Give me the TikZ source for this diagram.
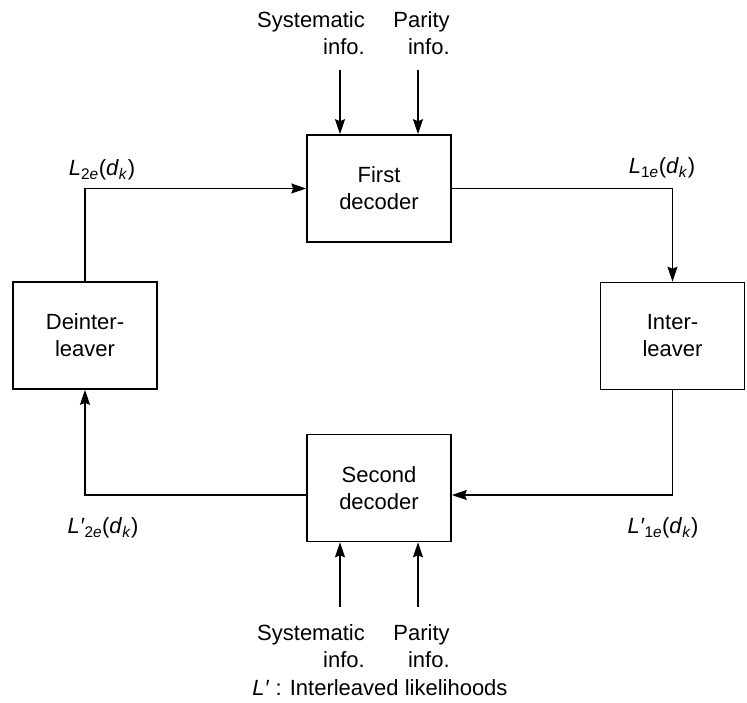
\documentclass[tikz,border=0pt]{standalone}
\usepackage{fontspec}
\setmainfont{Liberation Sans}
\usetikzlibrary{arrows.meta}
\newcommand{\ital}[1]{\textit{#1}}
\newcommand{\pr}{\ital{\char"2032}}
\begin{document}
\begin{tikzpicture}[x=1pt,y=-1pt,
  font=\fontsize{22}{27}\selectfont,
  line width=1.6pt,
  arr/.style={-{Stealth[length=15pt,width=10pt,inset=2pt]}},
  blockbox/.style={draw,rectangle,minimum width=144pt,minimum height=107pt,
    align=center,inner sep=0pt},
  lbl/.style={inner sep=0pt,align=center},
  srclbl/.style={inner sep=0pt,align=right}]
\useasboundingbox (0,0) rectangle (747,702);

% the four processing blocks
\node[blockbox] (first)  at (379,188.5) {First\\decoder};
\node[blockbox] (second) at (379,488)   {Second\\decoder};
\node[blockbox] (deint)  at (85,335.5)  {Deinter-\\leaver};
\node[blockbox] (inter)  at (672.5,336) {Inter-\\leaver};

% helper points: lower feedback row and external inputs
\coordinate (lowrow) at (0,495);
\coordinate (sysA) at (340,70);
\coordinate (parA) at (418,70);
\coordinate (sysB) at (340,607);
\coordinate (parB) at (418,607);

% loop connectors
\draw[arr] (deint.north) |- (first.west);
\draw[arr] (first.east) -| (inter.north);
\draw[arr] (inter.south) |- (second.east |- lowrow);
\draw[arr] (second.west |- lowrow) -| (deint.south);

% external inputs
\draw[arr] (sysA) -- (sysA |- first.north);
\draw[arr] (parA) -- (parA |- first.north);
\draw[arr] (sysB) -- (sysB |- second.south);
\draw[arr] (parB) -- (parB |- second.south);

% input labels
\node[srclbl] (sysTop) at (311,33.5) {Systematic\\info.};
\node[srclbl] (parTop) at (421.5,33.5) {Parity\\info.};
\node[srclbl] (sysBot) at (311,646) {Systematic\\info.};
\node[srclbl] (parBot) at (421.5,646) {Parity\\info.};

% likelihood labels
\node[lbl] (l2e) at (102,170) {\ital{L}\textsubscript{2\ital{e}}(\ital{d}\textsubscript{\ital{k}})};
\node[lbl] (l1e) at (662,168) {\ital{L}\textsubscript{1\ital{e}}(\ital{d}\textsubscript{\ital{k}})};
\node[lbl] (l2ep) at (103,528) {\ital{L}\pr\textsubscript{2\ital{e}}(\ital{d}\textsubscript{\ital{k}})};
\node[lbl] (l1ep) at (663,528) {\ital{L}\pr\textsubscript{1\ital{e}}(\ital{d}\textsubscript{\ital{k}})};

% legend
\node[lbl] (legend) at (380,688) {\ital{L}\pr{} : Interleaved likelihoods};
\end{tikzpicture}
\end{document}
